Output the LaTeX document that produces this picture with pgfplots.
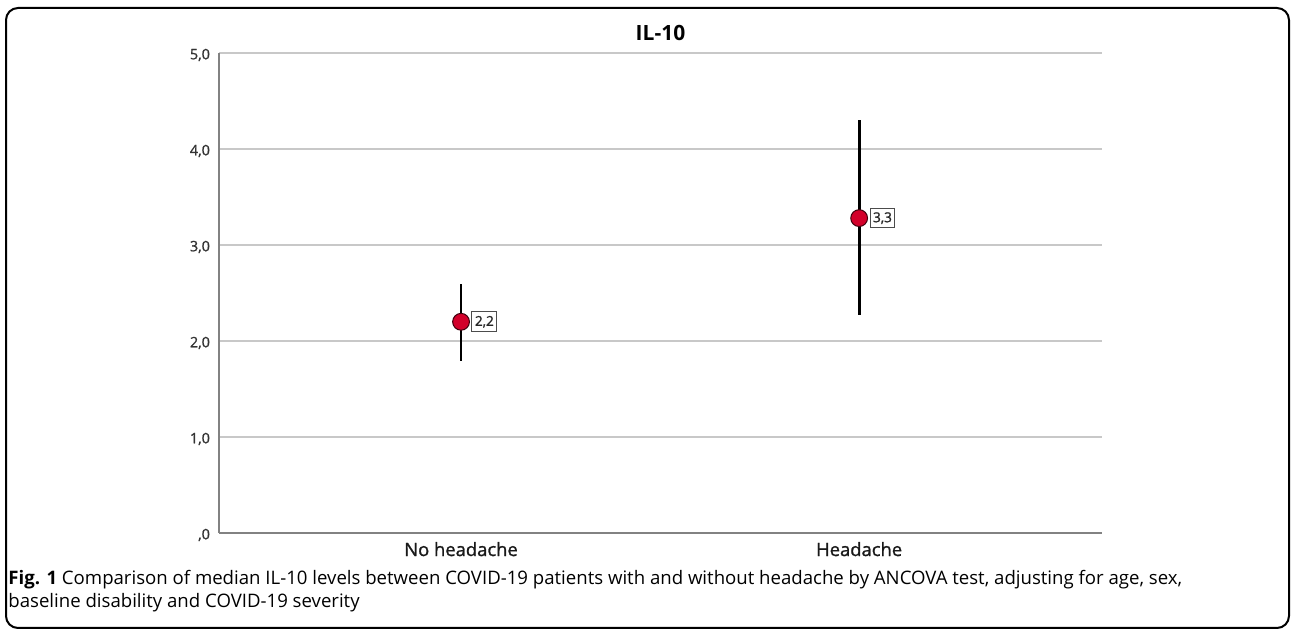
\documentclass[border=0pt]{standalone}
\usepackage{pgfplots}
\pgfplotsset{compat=1.18}
\usepackage{fontspec}
\setmainfont{Open Sans}
\newfontfamily\semib[FakeBold=1.2]{Open Sans}
\definecolor{mkred}{RGB}{210,0,42}
\definecolor{gridc}{RGB}{200,200,200}
\definecolor{axc}{RGB}{130,130,130}
\pgfplotstableread{
x y ep em lab
0 2.20 0.39 0.41 {2,2}
1 3.28 1.02 1.01 {3,3}
}\datatab
\begin{document}
\begin{tikzpicture}
\useasboundingbox (0,0) rectangle (646pt,315pt);
\draw[line width=1pt, rounded corners=6pt] (3pt,1pt) rectangle (644.5pt,311pt);
\begin{axis}[
  at={(109.5pt,48.5pt)}, anchor=south west,
  scale only axis, width=441.5pt, height=240pt,
  xmin=-0.608, xmax=1.61, ymin=0, ymax=5,
  axis lines*=left,
  axis line style={draw=axc, line width=0.8pt},
  xtick={0,1}, xticklabels={No headache, Headache},
  ytick={0,1,2,3,4,5}, yticklabels={{,0},{1,0},{2,0},{3,0},{4,0},{5,0}},
  major tick length=0pt,
  ymajorgrids, grid style={draw=gridc, line width=0.75pt},
  yticklabel style={font=\semib\fontsize{7.2}{8}\selectfont, text=black!80, xshift=-1pt, yshift=-1pt},
  xticklabel style={font=\semib\fontsize{9.2}{11}\selectfont, text=black!90, yshift=-1pt},
  clip=false,
]
\node[anchor=base, font=\bfseries\fontsize{10.5}{12}\selectfont, inner sep=0]
  at (axis description cs:0.5,1) [yshift=6.2pt] {IL-10};
\addplot[
  only marks, mark=*, mark size=4.2pt,
  mark options={fill=mkred, draw=black!70!mkred, line width=0.5pt},
  error bars/.cd, y dir=both, y explicit,
  error mark=none,
  error bar style={line width=1.4pt, black},
] table[x=x, y=y, y error plus=ep, y error minus=em] {\datatab};
\addplot[
  only marks, mark=none,
  point meta=explicit symbolic,
  nodes near coords,
  nodes near coords style={anchor=west, xshift=5.2pt, draw=black!70, line width=0.5pt,
    fill=white, inner xsep=1.5pt, inner ysep=2pt, font=\semib\fontsize{6.8}{7}\selectfont, text=black!85},
] table[x=x, y=y, meta=lab] {\datatab};
\end{axis}
\node[anchor=base west, inner sep=0, font=\fontsize{9.3}{11}\selectfont] at (4pt,22.5pt)
  {\textbf{Fig. 1} Comparison of median IL-10 levels between COVID-19 patients with and without headache by ANCOVA test, adjusting for age, sex,};
\node[anchor=base west, inner sep=0, font=\fontsize{9.3}{11}\selectfont] at (4pt,11pt)
  {baseline disability and COVID-19 severity};
\end{tikzpicture}
\end{document}
